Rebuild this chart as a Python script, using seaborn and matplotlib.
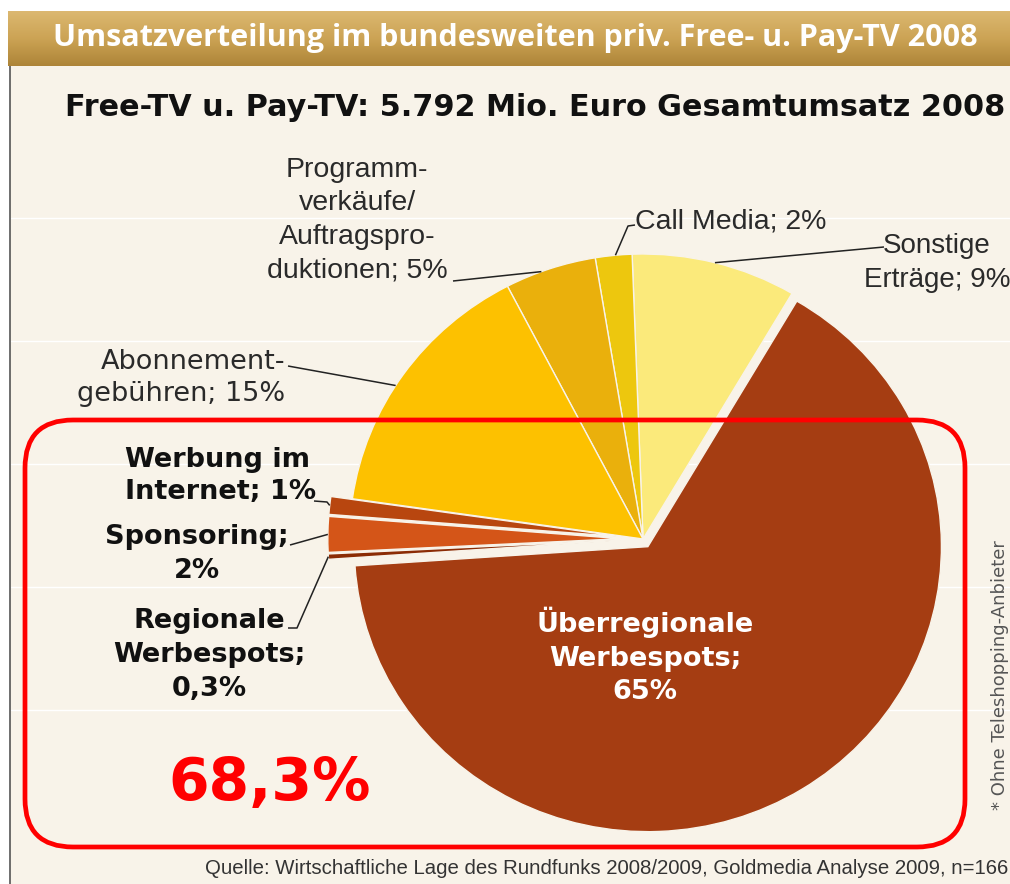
import numpy as np
import matplotlib
matplotlib.use("Agg")
import matplotlib.pyplot as plt
import seaborn as sns
from matplotlib.patches import FancyBboxPatch, Rectangle
from matplotlib import font_manager

# ---------------- data ----------------
categories = ["Sonstige Erträge", "Call Media", "Programmverkäufe/Auftragsproduktionen",
              "Abonnementgebühren", "Werbung im Internet", "Sponsoring",
              "Regionale Werbespots", "Überregionale Werbespots"]
shares = [9, 2, 5, 15, 1, 2, 0.3, 65]
colors = ["#FBEA7B", "#EDC70E", "#EAB00C", "#FDC100", "#B8460F", "#D45518", "#8B2C05", "#A53D12"]
explode_px = [0, 0, 0, 0, 21, 21, 21, 9]

label_texts = {
    "Sonstige Erträge": "Sonstige\nErträge; 9%",
    "Call Media": "Call Media; 2%",
    "Programmverkäufe/Auftragsproduktionen": "Programm-\nverkäufe/\nAuftragspro-\nduktionen; 5%",
    "Abonnementgebühren": "Abonnement-\ngebühren; 15%",
    "Werbung im Internet": "Werbung im\nInternet; 1%",
    "Sponsoring": "Sponsoring;\n2%",
    "Regionale Werbespots": "Regionale\nWerbespots;\n0,3%",
    "Überregionale Werbespots": "Überregionale\nWerbespots;\n65%",
}
header_text = "Umsatzverteilung im bundesweiten priv. Free- u. Pay-TV 2008"
title_text = "Free-TV u. Pay-TV: 5.792 Mio. Euro Gesamtumsatz 2008"
highlight_text = "68,3%"
source_text = "Quelle: Wirtschaftliche Lage des Rundfunks 2008/2009, Goldmedia Analyse 2009, n=166"
side_note = "* Ohne Teleshopping-Anbieter"

# ---------------- style ----------------
sns.set_theme(style="white")
plt.rcParams["font.family"] = ["DejaVu Sans"]
avail = {f.name for f in font_manager.fontManager.ttflist}
NARROW = "Liberation Sans Narrow" if "Liberation Sans Narrow" in avail else "Liberation Sans"
HEAD = "Open Sans" if "Open Sans" in avail else "DejaVu Sans"

W, H = 1010, 884
CREAM = "#F8F3E9"
SX = 1.03  # the original pie is slightly wider than tall

fig = plt.figure(figsize=(W / 100, H / 100), dpi=100)
fig.patch.set_facecolor("white")
ax_bg = fig.add_axes([0, 0, 1, 1], zorder=0)
ax_p = fig.add_axes([0, 0, 1, 1], zorder=1)
ax_t = fig.add_axes([0, 0, 1, 1], zorder=2)
for a in (ax_bg, ax_p, ax_t):
    a.set_facecolor("none")
ax_bg.set_facecolor("white")


def Y(y):
    return H - y


# ---------- background ----------
ax_bg.add_patch(Rectangle((10, 0), W - 10, Y(66), facecolor=CREAM, edgecolor="none", zorder=0))
ax_bg.plot([10, 10], [0, Y(66)], color="#555555", lw=1.2, zorder=1)
for yy in [218, 341, 464, 587, 710]:
    ax_bg.plot([11, W], [Y(yy), Y(yy)], color="white", lw=1.0, zorder=0.5)

c_top = np.array([0.86, 0.72, 0.44])
c_mid = np.array([0.80, 0.64, 0.33])
c_bot = np.array([0.68, 0.52, 0.22])
rows = []
for g in np.linspace(0, 1, 60):
    if g < 0.5:
        rows.append(c_top + (c_mid - c_top) * g / 0.5)
    else:
        rows.append(c_mid + (c_bot - c_mid) * (g - 0.5) / 0.5)
img = np.array(rows)[:, None, :].repeat(4, axis=1)
ax_bg.imshow(img, extent=(8, W, Y(66), Y(11)), aspect="auto", zorder=1, interpolation="bilinear")
ax_bg.text(515, Y(38), header_text, color="white", fontsize=22, fontweight="bold",
           family=HEAD, ha="center", va="center", zorder=2)
ax_bg.text(535, Y(108), title_text, fontsize=21.8, fontweight="bold", color="#111111",
           ha="center", va="center", zorder=2)

# ---------- pie ----------
cx_img, cy_img, R = 643, 539, 285
wedges, _ = ax_p.pie(shares, colors=colors, explode=explode_px, startangle=59.5,
                     counterclock=True, center=(cx_img / SX, Y(cy_img)), radius=R, frame=True,
                     wedgeprops=dict(edgecolor=CREAM, linewidth=1.0))


def anchor(i, frac=0.5, rfac=1.0):
    w_ = wedges[i]
    th = np.deg2rad(w_.theta1 + (w_.theta2 - w_.theta1) * frac)
    x0, y0 = w_.center
    return (x0 + w_.r * rfac * np.cos(th)) * SX, y0 + w_.r * rfac * np.sin(th)


def leader(i, pts, frac=0.5, rfac=1.0):
    ax_, ay_ = anchor(i, frac, rfac)
    xs = [p[0] for p in pts] + [ax_]
    ys = [Y(p[1]) for p in pts] + [ay_]
    ax_t.plot(xs, ys, color="#222222", lw=1.1, zorder=5, solid_capstyle="butt")


# ---------- overlay: box, labels, leaders ----------
ax_t.add_patch(FancyBboxPatch((25, Y(847)), 940, 427,
                              boxstyle="round,pad=0,rounding_size=48",
                              facecolor="none", edgecolor="#FF0000", lw=3.4, zorder=3))

TXT = "#2A2A2A"
ax_t.text(357, Y(220), label_texts[categories[2]], family=NARROW, fontsize=20.5, color=TXT,
          ha="center", va="center", multialignment="center", linespacing=1.38, zorder=6)
leader(2, [(453, 281)], frac=0.6)
ax_t.text(635, Y(222), label_texts[categories[1]], family=NARROW, fontsize=20.5, color=TXT,
          ha="left", va="center", zorder=6)
leader(1, [(635, 225), (628, 226)], frac=0.45)
ax_t.text(937, Y(263), label_texts[categories[0]], family=NARROW, fontsize=20, color=TXT,
          ha="center", va="center", multialignment="center", linespacing=1.4, zorder=6)
leader(0, [(884, 247)], frac=0.5)
ax_t.text(285, Y(378), label_texts[categories[3]], fontsize=19.5, color=TXT,
          ha="right", va="center", multialignment="right", linespacing=1.33, zorder=6)
leader(3, [(288, 366)], frac=0.55)

BOLD = dict(fontsize=19.5, fontweight="bold", va="center", zorder=6)
ax_t.text(125, Y(476), label_texts[categories[4]], color="#111111", ha="left",
          multialignment="left", linespacing=1.3, **BOLD)
leader(4, [(314, 501), (327, 502)], frac=0.5)
ax_t.text(197, Y(554), label_texts[categories[5]], color="#111111", ha="center",
          multialignment="center", linespacing=1.38, **BOLD)
leader(5, [(290, 545)], frac=0.5)
ax_t.text(209, Y(655), label_texts[categories[6]], color="#111111", ha="center",
          multialignment="center", linespacing=1.4, **BOLD)
leader(6, [(288, 628), (297, 628)], frac=0.5)
ax_t.text(645, Y(656), label_texts[categories[7]], color="white", ha="center",
          multialignment="center", linespacing=1.38, **BOLD)

ax_t.text(270, Y(783), highlight_text, fontsize=42, fontweight="bold", color="#FF0000",
          ha="center", va="center", zorder=6)

ax_t.text(1008, Y(868), source_text, family=NARROW, fontsize=14.7, color="#333333",
          ha="right", va="center", zorder=6)
ax_t.text(1000, Y(675), side_note, fontsize=13, color="#555555", rotation=90,
          ha="center", va="center", zorder=6)

for a, xmax in ((ax_bg, W), (ax_p, W / SX), (ax_t, W)):
    a.set_xlim(0, xmax)
    a.set_ylim(0, H)
    a.set_aspect("auto")
    a.axis("off")

fig.savefig("out.png", dpi=100, facecolor=fig.get_facecolor())
